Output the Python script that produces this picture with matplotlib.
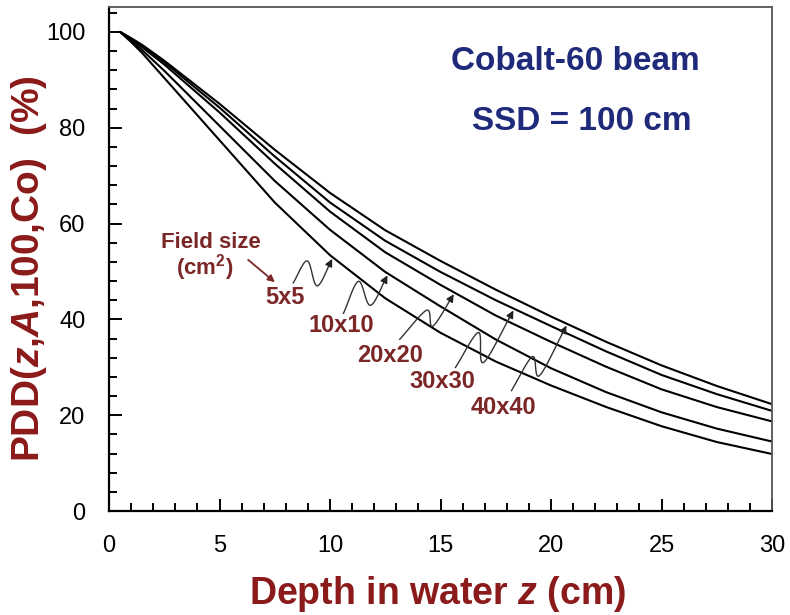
import numpy as np
import matplotlib
matplotlib.use("Agg")
from matplotlib import pyplot as plt
from matplotlib.ticker import MultipleLocator

plt.rcParams['font.family'] = ['Liberation Sans', 'DejaVu Sans']
plt.rcParams['mathtext.fontset'] = 'custom'
plt.rcParams['mathtext.rm'] = 'Liberation Sans:bold'
plt.rcParams['mathtext.it'] = 'Liberation Sans:bold:italic'
plt.rcParams['mathtext.bf'] = 'Liberation Sans:bold'

# depth in water (cm) and percentage depth dose for each field size
depth = [0.5, 1.0, 1.5, 2.5, 5, 7.5, 10, 12.5, 15, 17.5, 20, 22.5, 25, 27.5, 30]
pdd_5x5 = [100, 97.9, 95.6, 90.4, 77.4, 64.4, 53.4, 44.4, 37.2, 31.2, 26.2, 21.7, 17.7, 14.4, 11.9]
pdd_10x10 = [100, 98.2, 96.2, 91.9, 80.4, 68.9, 58.7, 49.9, 42.7, 35.8, 29.8, 24.8, 20.6, 17.2, 14.5]
pdd_20x20 = [100, 98.5, 96.8, 93.2, 83.2, 72.5, 62.5, 54.0, 47.2, 40.8, 35.3, 30.1, 25.4, 21.7, 18.7]
pdd_30x30 = [100, 98.6, 97.1, 93.7, 84.2, 74.0, 64.4, 56.4, 49.9, 44.0, 38.6, 33.3, 28.4, 24.4, 20.9]
pdd_40x40 = [100, 98.7, 97.3, 94.0, 85.0, 75.4, 66.4, 58.6, 52.2, 46.2, 40.6, 35.3, 30.4, 26.1, 22.3]

field_labels = ['5x5', '10x10', '20x20', '30x30', '40x40']
curves = [pdd_5x5, pdd_10x10, pdd_20x20, pdd_30x30, pdd_40x40]
# depth where each label's arrow meets its curve
arrow_depth = [10.1, 12.6, 15.6, 18.3, 20.7]

# squiggle shape for each label arrow: start, crest, trough (pixels from tip, y down)
squiggles = [
    [(-39, 24), (-25, 2), (-15, 27)],
    [(-44, 38), (-29, 6), (-17, 30)],
    [(-54, 45), (-27, 16), (-21, 32)],
    [(-58, 57), (-35, 22), (-30, 52)],
    [(-55, 65), (-34, 31), (-27, 50)],
]
label_pos = [(285, 297), (341, 325), (390, 356), (442, 381), (503, 408)]

red = '#8b1a1a'
maroon = '#7b2727'
navy = '#1f2a7a'

fig = plt.figure(figsize=(7.9, 6.15), dpi=100)
W, H = 790, 615
ax = fig.add_axes([109 / W, 1 - 511 / H, (772 - 109) / W, (511 - 7) / H])

for pdd in curves:
    ax.plot(depth, pdd, color='black', lw=1.5, solid_capstyle='round')

ax.set_xlim(0, 30)
ax.set_ylim(0, 105.2)
ax.xaxis.set_major_locator(MultipleLocator(5))
ax.xaxis.set_minor_locator(MultipleLocator(1))
ax.yaxis.set_major_locator(MultipleLocator(20))
ax.yaxis.set_minor_locator(MultipleLocator(4))
ax.tick_params(which='both', direction='in', width=1.4, labelsize=17, pad=17)
ax.tick_params(which='major', length=9)
ax.tick_params(which='minor', length=6)
for side in ['left', 'bottom']:
    ax.spines[side].set_linewidth(1.6)
for side in ['top', 'right']:
    ax.spines[side].set_linewidth(1.3)
    ax.spines[side].set_color('#555555')

ax.set_xlabel('Depth in water $z$ (cm)', fontsize=27, fontweight='bold', color=red)
ax.xaxis.set_label_coords(0.495, -0.125)
ax.set_ylabel('PDD($z$,$A$,100,Co)  (%)', fontsize=28, fontweight='bold', color=red)
ax.yaxis.set_label_coords(-0.090, 0.48)

ax.text(0.703, 0.891, 'Cobalt-60 beam', transform=ax.transAxes, fontsize=24,
        fontweight='bold', color=navy, ha='center', va='center')
ax.text(0.713, 0.772, 'SSD = 100 cm', transform=ax.transAxes, fontsize=24,
        fontweight='bold', color=navy, ha='center', va='center')

def px(x, y):
    # image pixel (y down) to data coordinates
    return ax.transData.inverted().transform((x, H - y))

fx, fy = px(211, 243)
ax.text(fx, fy, 'Field size', fontsize=16, fontweight='bold', color=maroon,
        ha='center', va='center')
fx, fy = px(205, 268)
ax.text(fx, fy, '(cm$^2$)', fontsize=16, fontweight='bold', color=maroon,
        ha='center', va='center')
a0 = px(246, 258)
a1 = px(277, 284)
ax.annotate('', xy=a1, xytext=a0,
            arrowprops=dict(arrowstyle='-|>', color=maroon, lw=1.3, mutation_scale=10))

def smooth(points, n=20):
    # Catmull-Rom through the squiggle's control points
    pts = np.array(points, dtype=float)
    pts = np.vstack([pts[0] * 2 - pts[1], pts, pts[-1] * 2 - pts[-2]])
    out = []
    t = np.linspace(0, 1, n, endpoint=False)[:, None]
    for i in range(1, len(pts) - 2):
        p0, p1, p2, p3 = pts[i - 1], pts[i], pts[i + 1], pts[i + 2]
        out.append(0.5 * ((2 * p1) + (-p0 + p2) * t + (2 * p0 - 5 * p1 + 4 * p2 - p3) * t ** 2
                          + (-p0 + 3 * p1 - 3 * p2 + p3) * t ** 3))
    out.append(pts[-2][None, :])
    return np.vstack(out)

for name, pdd, zt, sq, lp in zip(field_labels, curves, arrow_depth, squiggles, label_pos):
    yt = np.interp(zt, depth, pdd)
    tip = ax.transData.transform((zt, yt))
    tip_img = (tip[0], H - tip[1] + 2)
    ctrl = [(tip_img[0] + dx, tip_img[1] + dy) for dx, dy in sq] + [tip_img]
    path = smooth(ctrl)
    data = np.array([px(x, y) for x, y in path])
    ax.plot(data[:-3, 0], data[:-3, 1], color='#333333', lw=1.0)
    ax.annotate('', xy=data[-1], xytext=data[-4],
                arrowprops=dict(arrowstyle='-|>', color='#222222', lw=1.0,
                                mutation_scale=11, shrinkA=0, shrinkB=0))
    tx, ty = px(*lp)
    ax.text(tx, ty, name, fontsize=17, fontweight='bold', color=maroon,
            ha='center', va='center')

fig.savefig('out.png', dpi=100)
